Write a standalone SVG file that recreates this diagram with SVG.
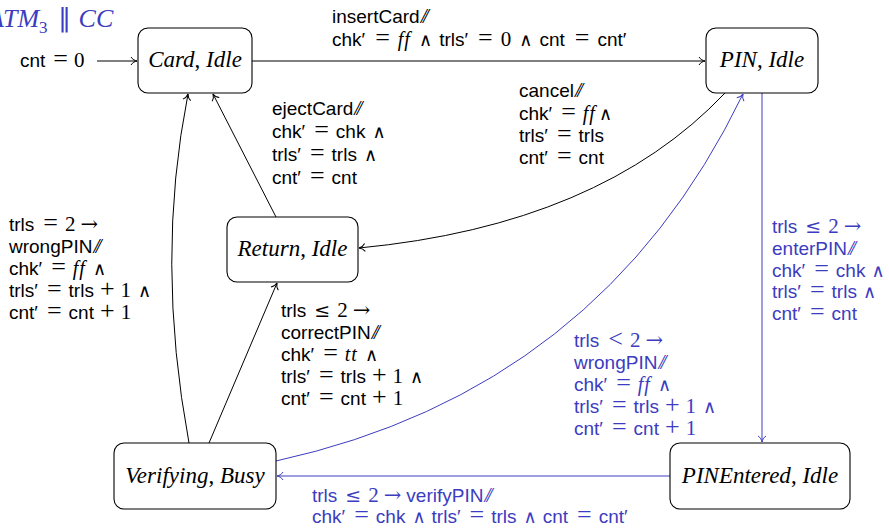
<svg xmlns="http://www.w3.org/2000/svg" width="889" height="528" viewBox="0 0 889 528">
<style>
  .box { fill: #fff; stroke: #000; stroke-width: 1.1; }
  .nl { font-family: "Liberation Serif", "Times New Roman", serif; font-size: 23px; text-anchor: middle; fill: #000; }
  .ni { font-style: italic; }
  .t { font-family: "Liberation Sans", Arial, sans-serif; font-size: 19px; fill: #000; }
  .b .t { fill: #3c3cc0; }
  .e { font-family: "Liberation Serif", serif; font-size: 26px; }
  .w { font-family: "DejaVu Serif", serif; font-size: 18px; }
  .le { font-family: "DejaVu Serif", serif; font-size: 19px; }
  .ar { font-family: "DejaVu Serif", serif; font-size: 21px; }
  .d { font-family: "Liberation Serif", serif; font-size: 21px; }
  .i { font-family: "Liberation Serif", serif; font-style: italic; font-size: 20px; letter-spacing: 1px; }
  .sl { font-family: "Liberation Serif", serif; font-style: italic; font-size: 21px; letter-spacing: -3.5px; }
  .edge { fill: none; stroke: #000; stroke-width: 1; }
  .edge.blue { stroke: #3c3cc0; }
  .title { font-family: "Liberation Serif", "Times New Roman", serif; font-size: 26px; font-style: italic; fill: #3c3cc0; }
</style>
<defs>
  <marker id="ah" viewBox="-8 -5 9 10" refX="0" refY="0" markerWidth="9" markerHeight="10" markerUnits="userSpaceOnUse" orient="auto">
    <path d="M-6,-4 C-4.5,-1.5 -2,-0.4 0,0 C-2,0.4 -4.5,1.5 -6,4" fill="none" stroke="#000" stroke-width="1"/>
  </marker>
  <marker id="ahb" viewBox="-8 -5 9 10" refX="0" refY="0" markerWidth="9" markerHeight="10" markerUnits="userSpaceOnUse" orient="auto">
    <path d="M-6,-4 C-4.5,-1.5 -2,-0.4 0,0 C-2,0.4 -4.5,1.5 -6,4" fill="none" stroke="#3c3cc0" stroke-width="1"/>
  </marker>
</defs>

<g id="title">
  <text class="title" x="-12" y="27">ATM<tspan font-style="normal" font-size="17" dy="6">3</tspan><tspan font-style="normal" font-weight="300" dy="-6" dx="10">∥</tspan><tspan dx="8">CC</tspan></text>
</g>

<g id="connectors">
  <path class="edge" d="M97,61 L137,61" marker-end="url(#ah)"/>
  <path class="edge" d="M252,61 L705,61" marker-end="url(#ah)"/>
  <path class="edge" d="M276,217 L213,94" marker-end="url(#ah)"/>
  <path class="edge" d="M725,93 Q600,225 359,248" marker-end="url(#ah)"/>
  <path class="edge" d="M189,443 Q155,260 188,94" marker-end="url(#ah)"/>
  <path class="edge" d="M209,443 L277,283" marker-end="url(#ah)"/>
  <path class="edge blue" d="M276,461 Q600,390 743,94" marker-end="url(#ahb)"/>
  <path class="edge blue" d="M762,93 L762,442" marker-end="url(#ahb)"/>
  <path class="edge blue" d="M670,476 L277,476" marker-end="url(#ahb)"/>
</g>

<g id="n-card">
  <rect class="box" x="138" y="28" width="114" height="65" rx="10"/>
  <text class="nl" x="195" y="67"><tspan class="ni">Card</tspan>, <tspan class="ni">Idle</tspan></text>
</g>
<g id="n-pin">
  <rect class="box" x="706" y="28" width="112" height="65" rx="10"/>
  <text class="nl" x="762" y="67"><tspan class="ni">PIN</tspan>, <tspan class="ni">Idle</tspan></text>
</g>
<g id="n-return">
  <rect class="box" x="227" y="217" width="131" height="65" rx="10"/>
  <text class="nl" x="292.5" y="256"><tspan class="ni">Return</tspan>, <tspan class="ni">Idle</tspan></text>
</g>
<g id="n-verifying">
  <rect class="box" x="114" y="443" width="162" height="66" rx="10"/>
  <text class="nl" x="195" y="483"><tspan class="ni">Verifying</tspan>, <tspan class="ni">Busy</tspan></text>
</g>
<g id="n-pinentered">
  <rect class="box" x="670" y="443" width="180" height="66" rx="10"/>
  <text class="nl" x="760" y="483"><tspan class="ni">PINEntered</tspan>, <tspan class="ni">Idle</tspan></text>
</g>

<g id="labels">
  <text class="t" x="20" y="67">cnt<tspan class="e" dx="8">=</tspan><tspan class="d" dx="6">0</tspan></text>

  <text class="t">
    <tspan x="332" y="23">insertCard<tspan class="sl" dx="1">//</tspan></tspan>
    <tspan x="332" y="46">chk′<tspan class="e" dx="10">=</tspan><tspan class="i" dx="8">ff</tspan><tspan class="w" dx="8">∧</tspan><tspan dx="7">trls′</tspan><tspan class="e" dx="10">=</tspan><tspan class="d" dx="8">0</tspan><tspan class="w" dx="8">∧</tspan><tspan dx="7">cnt</tspan><tspan class="e" dx="10">=</tspan><tspan dx="8">cnt′</tspan></tspan>
  </text>

  <text class="t">
    <tspan x="272" y="115">ejectCard<tspan class="sl" dx="1">//</tspan></tspan>
    <tspan x="272" y="138">chk′<tspan class="e" dx="9">=</tspan><tspan dx="7">chk</tspan><tspan class="w" dx="7">∧</tspan></tspan>
    <tspan x="272" y="161">trls′<tspan class="e" dx="9">=</tspan><tspan dx="7">trls</tspan><tspan class="w" dx="7">∧</tspan></tspan>
    <tspan x="272" y="184">cnt′<tspan class="e" dx="9">=</tspan><tspan dx="7">cnt</tspan></tspan>
  </text>

  <text class="t">
    <tspan x="519" y="97">cancel<tspan class="sl" dx="1">//</tspan></tspan>
    <tspan x="519" y="120">chk′<tspan class="e" dx="9">=</tspan><tspan class="i" dx="7">ff</tspan><tspan class="w" dx="3">∧</tspan></tspan>
    <tspan x="519" y="142">trls′<tspan class="e" dx="9">=</tspan><tspan dx="7">trls</tspan></tspan>
    <tspan x="519" y="164">cnt′<tspan class="e" dx="9">=</tspan><tspan dx="7">cnt</tspan></tspan>
  </text>

  <text class="t">
    <tspan x="9" y="231">trls<tspan class="e" dx="9">=</tspan><tspan class="d" dx="7">2</tspan><tspan class="ar" dx="5">→</tspan></tspan>
    <tspan x="9" y="253">wrongPIN<tspan class="sl" dx="1">//</tspan></tspan>
    <tspan x="9" y="275">chk′<tspan class="e" dx="9">=</tspan><tspan class="i" dx="7">ff</tspan><tspan class="w" dx="7">∧</tspan></tspan>
    <tspan x="9" y="297">trls′<tspan class="e" dx="9">=</tspan><tspan dx="7">trls</tspan><tspan class="e" dx="6">+</tspan><tspan class="d" dx="6">1</tspan><tspan class="w" dx="7">∧</tspan></tspan>
    <tspan x="9" y="319">cnt′<tspan class="e" dx="9">=</tspan><tspan dx="7">cnt</tspan><tspan class="e" dx="6">+</tspan><tspan class="d" dx="6">1</tspan></tspan>
  </text>

  <text class="t">
    <tspan x="281" y="317">trls<tspan class="le" dx="8">≤</tspan><tspan class="d" dx="7">2</tspan><tspan class="ar" dx="5">→</tspan></tspan>
    <tspan x="281" y="339">correctPIN<tspan class="sl" dx="1">//</tspan></tspan>
    <tspan x="281" y="361">chk′<tspan class="e" dx="9">=</tspan><tspan class="i" dx="7">tt</tspan><tspan class="w" dx="7">∧</tspan></tspan>
    <tspan x="281" y="383">trls′<tspan class="e" dx="9">=</tspan><tspan dx="7">trls</tspan><tspan class="e" dx="6">+</tspan><tspan class="d" dx="6">1</tspan><tspan class="w" dx="7">∧</tspan></tspan>
    <tspan x="281" y="405">cnt′<tspan class="e" dx="9">=</tspan><tspan dx="7">cnt</tspan><tspan class="e" dx="6">+</tspan><tspan class="d" dx="6">1</tspan></tspan>
  </text>

  <g class="b">
    <text class="t">
      <tspan x="772" y="233">trls<tspan class="le" dx="8">≤</tspan><tspan class="d" dx="7">2</tspan><tspan class="ar" dx="5">→</tspan></tspan>
      <tspan x="772" y="255">enterPIN<tspan class="sl" dx="1">//</tspan></tspan>
      <tspan x="772" y="277">chk′<tspan class="e" dx="9">=</tspan><tspan dx="7">chk</tspan><tspan class="w" dx="6">∧</tspan></tspan>
      <tspan x="772" y="298">trls′<tspan class="e" dx="9">=</tspan><tspan dx="7">trls</tspan><tspan class="w" dx="6">∧</tspan></tspan>
      <tspan x="772" y="320">cnt′<tspan class="e" dx="9">=</tspan><tspan dx="7">cnt</tspan></tspan>
    </text>

    <text class="t">
      <tspan x="574" y="347">trls<tspan class="e" dx="9">&lt;</tspan><tspan class="d" dx="7">2</tspan><tspan class="ar" dx="5">→</tspan></tspan>
      <tspan x="574" y="369">wrongPIN<tspan class="sl" dx="1">//</tspan></tspan>
      <tspan x="574" y="391">chk′<tspan class="e" dx="9">=</tspan><tspan class="i" dx="7">ff</tspan><tspan class="w" dx="7">∧</tspan></tspan>
      <tspan x="574" y="413">trls′<tspan class="e" dx="9">=</tspan><tspan dx="7">trls</tspan><tspan class="e" dx="6">+</tspan><tspan class="d" dx="6">1</tspan><tspan class="w" dx="7">∧</tspan></tspan>
      <tspan x="574" y="435">cnt′<tspan class="e" dx="9">=</tspan><tspan dx="7">cnt</tspan><tspan class="e" dx="6">+</tspan><tspan class="d" dx="6">1</tspan></tspan>
    </text>

    <text class="t">
      <tspan x="312" y="502">trls<tspan class="le" dx="8">≤</tspan><tspan class="d" dx="7">2</tspan><tspan class="ar" dx="5">→</tspan><tspan dx="5">verifyPIN</tspan><tspan class="sl" dx="1">//</tspan></tspan>
      <tspan x="312" y="523">chk′<tspan class="e" dx="9">=</tspan><tspan dx="7">chk</tspan><tspan class="w" dx="7">∧</tspan><tspan dx="6">trls′</tspan><tspan class="e" dx="9">=</tspan><tspan dx="7">trls</tspan><tspan class="w" dx="7">∧</tspan><tspan dx="6">cnt</tspan><tspan class="e" dx="9">=</tspan><tspan dx="7">cnt′</tspan></tspan>
    </text>
  </g>
</g>
</svg>
